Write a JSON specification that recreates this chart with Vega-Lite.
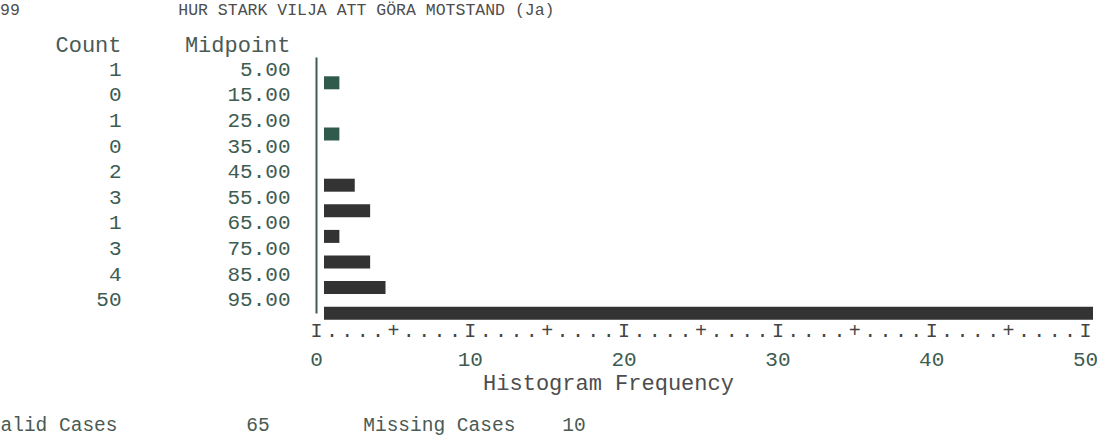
{
  "$schema": "https://vega.github.io/schema/vega-lite/v6.json",
  "autosize": "none",
  "width": 769,
  "height": 256,
  "padding": {"left": 316, "top": 57, "right": 17, "bottom": 135},
  "background": "white",
  "config": {"view": {"stroke": null}, "font": "Liberation Mono"},
  "title": {
    "text": "99\u00a0\u00a0\u00a0\u00a0\u00a0\u00a0\u00a0\u00a0\u00a0\u00a0\u00a0\u00a0\u00a0\u00a0\u00a0\u00a0HUR STARK VILJA ATT GÖRA MOTSTAND (Ja)",
    "anchor": "start",
    "frame": "group",
    "dx": -316,
    "offset": 15,
    "font": "Liberation Mono",
    "fontSize": 16.5,
    "fontWeight": "normal",
    "color": "#4d4d4d"
  },
  "data": {
    "values": [
      {"count": 1, "midpoint": 5},
      {"count": 0, "midpoint": 15},
      {"count": 1, "midpoint": 25},
      {"count": 0, "midpoint": 35},
      {"count": 2, "midpoint": 45},
      {"count": 3, "midpoint": 55},
      {"count": 1, "midpoint": 65},
      {"count": 3, "midpoint": 75},
      {"count": 4, "midpoint": 85},
      {"count": 50, "midpoint": 95}
    ]
  },
  "transform": [
    {"calculate": "datum.count + '|' + format(datum.midpoint, '.2f')", "as": "row"}
  ],
  "layer": [
    {
      "mark": {"type": "bar", "height": 13, "yOffset": 13, "xOffset": 8},
      "encoding": {
        "x": {
          "field": "count",
          "type": "quantitative",
          "scale": {"domain": [0, 50], "nice": false},
          "axis": {
            "values": [0,1,2,3,4,5,6,7,8,9,10,11,12,13,14,15,16,17,18,19,20,21,22,23,24,25,26,27,28,29,30,31,32,33,34,35,36,37,38,39,40,41,42,43,44,45,46,47,48,49,50],
            "labelExpr": "datum.value % 10 == 0 ? 'I' : (datum.value % 5 == 0 ? '+' : '.')",
            "labelFont": "Liberation Mono",
            "labelFontSize": 20,
            "labelColor": "#444444",
            "labelPadding": 7,
            "labelOverlap": false,
            "labelFlush": false,
            "labelBound": false,
            "domain": false,
            "ticks": false,
            "grid": false,
            "title": "alid Cases\u00a0\u00a0\u00a0\u00a0\u00a0\u00a0\u00a0\u00a0\u00a0\u00a0\u00a065\u00a0\u00a0\u00a0\u00a0\u00a0\u00a0\u00a0\u00a0Missing Cases\u00a0\u00a0\u00a0\u00a010",
            "titleFont": "Liberation Mono",
            "titleFontSize": 19.5,
            "titleFontWeight": "normal",
            "titleColor": "#4a5a55",
            "titleAnchor": "start",
            "titleAlign": "left",
            "titleBaseline": "middle",
            "titleX": -316,
            "titleY": 111
          }
        },
        "y": {
          "field": "row",
          "type": "ordinal",
          "sort": {"field": "midpoint", "order": "ascending"},
          "scale": {"paddingInner": 0, "paddingOuter": 0},
          "axis": {
            "orient": "left",
            "labelExpr": "split(datum.value, '|')[1]",
            "labelFont": "Liberation Mono",
            "labelFontSize": 21,
            "labelColor": "#3d5c52",
            "labelPadding": 26,
            "ticks": false,
            "domain": true,
            "domainColor": "#3d5c52",
            "domainWidth": 2,
            "grid": false,
            "title": "Midpoint",
            "titleFont": "Liberation Mono",
            "titleFontSize": 22,
            "titleFontWeight": "normal",
            "titleColor": "#4a5a55",
            "titleAngle": 0,
            "titleAlign": "right",
            "titleBaseline": "middle",
            "titleX": -26,
            "titleY": -13
          }
        },
        "color": {
          "condition": {"test": "datum.midpoint < 30", "value": "#2f5a4c"},
          "value": "#333333"
        }
      }
    },
    {
      "mark": {"type": "point", "opacity": 0},
      "encoding": {
        "x": {
          "field": "count",
          "type": "quantitative",
          "axis": {
            "orient": "bottom",
            "values": [0, 10, 20, 30, 40, 50],
            "format": "d",
            "labelFont": "Liberation Mono",
            "labelFontSize": 21,
            "labelColor": "#3d5c52",
            "labelPadding": 35,
            "labelFlush": false,
            "labelBound": false,
            "domain": false,
            "ticks": false,
            "grid": false,
            "title": "Histogram Frequency",
            "titleFont": "Liberation Mono",
            "titleFontSize": 22,
            "titleFontWeight": "normal",
            "titleColor": "#4d4d4d",
            "titleAlign": "center",
            "titleBaseline": "middle",
            "titleX": 292,
            "titleY": 69
          }
        },
        "y": {
          "field": "row",
          "type": "ordinal",
          "sort": {"field": "midpoint", "order": "ascending"},
          "axis": {
            "orient": "left",
            "offset": 195,
            "labelExpr": "split(datum.value, '|')[0]",
            "labelFont": "Liberation Mono",
            "labelFontSize": 21,
            "labelColor": "#3d5c52",
            "labelPadding": 0,
            "ticks": false,
            "domain": false,
            "grid": false,
            "title": "Count",
            "titleFont": "Liberation Mono",
            "titleFontSize": 22,
            "titleFontWeight": "normal",
            "titleColor": "#4a5a55",
            "titleAngle": 0,
            "titleAlign": "right",
            "titleBaseline": "middle",
            "titleX": 0,
            "titleY": -13
          }
        }
      }
    }
  ],
  "resolve": {"axis": {"x": "independent", "y": "independent"}}
}
